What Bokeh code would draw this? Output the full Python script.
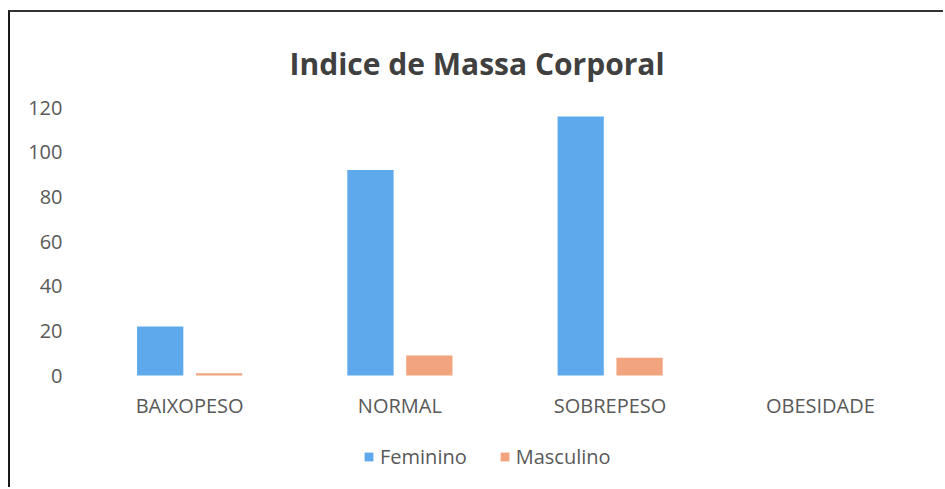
from bokeh.plotting import figure
from bokeh.models import FactorRange, Range1d, Legend, LegendItem, ColumnDataSource, FixedTicker
from bokeh.transform import dodge
from bokeh.embed import file_html
from bokeh.resources import INLINE

categories = ["BAIXOPESO", "NORMAL", "SOBREPESO", "OBESIDADE"]
feminino = [22, 92, 116, 0]
masculino = [1, 9, 8, 0]
y_ticks = [0, 20, 40, 60, 80, 100, 120]
title_text = "Indice de Massa Corporal"

FONT = "Open Sans"
GRAY = "#595959"

src = ColumnDataSource(dict(cat=categories, fem=feminino, masc=masculino))

p = figure(width=935, height=477, x_range=FactorRange(*categories, range_padding=0),
           y_range=Range1d(-51, 120), output_backend="svg", toolbar_location=None,
           min_border_left=74, min_border_right=20, min_border_top=95, min_border_bottom=0)
p.styles = {"margin-left": "8px", "margin-top": "10px",
            "border-left": "2px solid #1a1a1a", "border-top": "2px solid #333333"}

r_f = p.vbar(x=dodge("cat", -0.14, range=p.x_range), top="fem", width=0.22, source=src,
             fill_color="#5DA9EC", line_color=None)
r_m = p.vbar(x=dodge("cat", 0.14, range=p.x_range), top="masc", width=0.22, source=src,
             fill_color="#F2A47E", line_color=None)

p.outline_line_color = None
p.xgrid.grid_line_color = None
p.ygrid.grid_line_color = None

p.yaxis.ticker = FixedTicker(ticks=y_ticks)
p.xaxis.fixed_location = 0
for ax in (p.xaxis[0], p.yaxis[0]):
    ax.axis_line_color = None
    ax.major_tick_line_color = None
    ax.minor_tick_line_color = None
    ax.major_label_text_font = FONT
    ax.major_label_text_color = GRAY
    ax.major_label_text_font_size = "20px"
p.yaxis.major_label_standoff = 22
p.xaxis.major_label_standoff = 16
p.xaxis.major_tick_out = 0
p.yaxis.major_tick_out = 0

p.title.text = title_text
p.title.align = "left"
p.title.vertical_align = "top"
p.title.offset = 205
p.title.standoff = 44
p.title.text_font = FONT
p.title.text_font_style = "bold"
p.title.text_font_size = "30px"
p.title.text_color = "#404040"

legend = Legend(items=[LegendItem(label="Feminino", renderers=[r_f]),
                       LegendItem(label="Masculino", renderers=[r_m])],
                orientation="horizontal", location=(279, 19),
                border_line_color=None, background_fill_alpha=0,
                padding=0, margin=0, spacing=32, glyph_width=11, glyph_height=11,
                label_standoff=6, label_height=20, label_text_font=FONT, label_text_color=GRAY,
                label_text_font_size="20px")
p.add_layout(legend, "center")

open("out.html", "w").write(file_html(p, INLINE))
